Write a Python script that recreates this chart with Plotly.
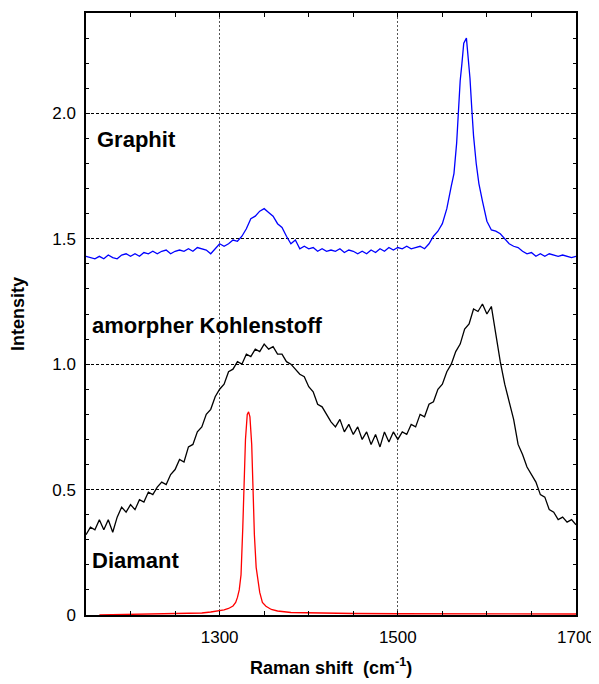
import plotly.graph_objects as go

# ---------------- data ----------------
# amorphous carbon (black)
amorph_x = list(range(1150, 1701, 5))
amorph_y = [0.32, 0.35, 0.34, 0.38, 0.34, 0.38, 0.33, 0.39, 0.43, 0.41,
            0.44, 0.42, 0.46, 0.45, 0.49, 0.48, 0.51, 0.53, 0.52, 0.56,
            0.58, 0.62, 0.61, 0.67, 0.68, 0.73, 0.75, 0.80, 0.82, 0.87,
            0.90, 0.92, 0.97, 0.98, 1.01, 1.00, 1.04, 1.03, 1.06, 1.05,
            1.08, 1.06, 1.07, 1.04, 1.04, 1.01, 1.00, 0.98, 0.96, 0.95,
            0.91, 0.89, 0.84, 0.83, 0.80, 0.77, 0.75, 0.78, 0.73, 0.76,
            0.72, 0.75, 0.70, 0.73, 0.68, 0.72, 0.67, 0.73, 0.69, 0.73,
            0.70, 0.73, 0.72, 0.76, 0.75, 0.80, 0.79, 0.84, 0.85, 0.90,
            0.92, 0.97, 1.00, 1.05, 1.08, 1.14, 1.16, 1.22, 1.21, 1.24,
            1.20, 1.23, 1.12, 1.01, 0.92, 0.85, 0.78, 0.68, 0.64, 0.59,
            0.56, 0.53, 0.48, 0.47, 0.42, 0.41, 0.38, 0.39, 0.37, 0.38,
            0.36]

# graphite (blue)
graphit_x = [1150, 1155, 1160, 1165, 1170, 1175, 1180, 1185, 1190, 1195,
             1200, 1205, 1210, 1215, 1220, 1225, 1230, 1235, 1240, 1245,
             1250, 1255, 1260, 1265, 1270, 1275, 1280, 1285, 1290, 1295,
             1300, 1305, 1310, 1315, 1320, 1325, 1330, 1335, 1340, 1345,
             1350, 1355, 1360, 1365, 1370, 1375, 1380, 1385, 1390, 1395,
             1400, 1405, 1410, 1415, 1420, 1425, 1430, 1435, 1440, 1445,
             1450, 1455, 1460, 1465, 1470, 1475, 1480, 1485, 1490, 1495,
             1500, 1505, 1510, 1515, 1520, 1525, 1530, 1535, 1540, 1545,
             1550, 1555, 1560, 1563, 1566, 1568, 1570, 1572, 1574, 1577,
             1579, 1581, 1583, 1585, 1588, 1591, 1595, 1600, 1605, 1610,
             1615, 1620, 1625, 1630, 1635, 1640, 1645, 1650, 1655, 1660,
             1665, 1670, 1675, 1680, 1685, 1690, 1695, 1700]
graphit_y = [1.43, 1.425, 1.42, 1.43, 1.42, 1.435, 1.425, 1.42, 1.435, 1.44,
             1.43, 1.44, 1.43, 1.445, 1.44, 1.45, 1.44, 1.45, 1.455, 1.44,
             1.45, 1.455, 1.45, 1.46, 1.45, 1.465, 1.46, 1.455, 1.44, 1.46,
             1.48, 1.47, 1.48, 1.495, 1.49, 1.51, 1.54, 1.58, 1.59, 1.61,
             1.62, 1.605, 1.59, 1.56, 1.545, 1.51, 1.48, 1.495, 1.46, 1.47,
             1.46, 1.465, 1.45, 1.46, 1.45, 1.455, 1.45, 1.46, 1.445, 1.455,
             1.45, 1.44, 1.45, 1.44, 1.455, 1.445, 1.46, 1.45, 1.465, 1.455,
             1.465, 1.46, 1.47, 1.46, 1.465, 1.47, 1.46, 1.48, 1.51, 1.53,
             1.56, 1.62, 1.71, 1.76, 1.88, 2.02, 2.13, 2.20, 2.28, 2.30,
             2.22, 2.14, 2.02, 1.91, 1.80, 1.72, 1.65, 1.57, 1.535, 1.53,
             1.52, 1.50, 1.48, 1.47, 1.465, 1.45, 1.44, 1.445, 1.43, 1.44,
             1.43, 1.44, 1.435, 1.43, 1.435, 1.43, 1.425, 1.43]

# diamond (red)
diamant_x = [1165, 1200, 1250, 1280, 1290, 1300, 1305, 1310, 1315, 1318,
             1320, 1322, 1324, 1326, 1327, 1329, 1331, 1332.5, 1334, 1336,
             1337.5, 1339, 1341, 1343, 1345, 1348, 1352, 1358, 1365, 1380,
             1400, 1450, 1500, 1600, 1700]
diamant_y = [0.0, 0.003, 0.005, 0.008, 0.012, 0.016, 0.02, 0.026, 0.036, 0.05,
             0.07, 0.10, 0.16, 0.35, 0.50, 0.70, 0.80, 0.81, 0.79, 0.68,
             0.50, 0.32, 0.19, 0.13, 0.09, 0.05, 0.035, 0.022, 0.016, 0.01,
             0.008, 0.006, 0.005, 0.004, 0.004]

x_tickvals = [1300, 1500, 1700]
y_tickvals = [0, 0.5, 1.0, 1.5, 2.0]
y_ticktext = ["0", "0.5", "1.0", "1.5", "2.0"]

labels = ["Graphit", "amorpher Kohlenstoff", "Diamant"]
label_x = [1160, 1155, 1154]
label_y = [1.895, 1.153, 0.218]

FONT = "Liberation Sans, Arial, sans-serif"

fig = go.Figure()
fig.add_trace(go.Scatter(x=amorph_x, y=amorph_y, mode="lines",
                         line=dict(color="black", width=1.3), showlegend=False))
fig.add_trace(go.Scatter(x=graphit_x, y=graphit_y, mode="lines",
                         line=dict(color="#0000ff", width=1.3), showlegend=False))
fig.add_trace(go.Scatter(x=diamant_x, y=diamant_y, mode="lines",
                         line=dict(color="#ff0000", width=1.3), showlegend=False))

for t, lx, ly in zip(labels, label_x, label_y):
    fig.add_annotation(x=lx, y=ly, xref="x", yref="y", text="<b>%s</b>" % t,
                       showarrow=False, xanchor="left", yanchor="middle",
                       font=dict(family=FONT, size=22, color="black"))

fig.add_annotation(x=0.5, y=-0.086, xref="paper", yref="paper",
                   text="<b>Raman shift  (cm<sup>-1</sup>)</b>", showarrow=False,
                   xanchor="center", yanchor="middle",
                   font=dict(family=FONT, size=18, color="black"))
fig.add_annotation(x=-0.139, y=0.5, xref="paper", yref="paper",
                   text="<b>Intensity</b>", showarrow=False, textangle=-90,
                   xanchor="center", yanchor="middle",
                   font=dict(family=FONT, size=18, color="black"))

# the page body has an 8px margin: size the figure to compensate
fig.update_layout(
    width=591, height=676,
    margin=dict(l=78, r=23, t=3, b=69),
    paper_bgcolor="white", plot_bgcolor="white",
    font=dict(family=FONT, size=17, color="black"),
    xaxis=dict(range=[1150, 1700], tickvals=x_tickvals,
               ticks="inside", ticklen=4, tickcolor="black",
               showline=True, linecolor="black", linewidth=1.5, mirror="ticks",
               showgrid=True, gridcolor="#555555", griddash="2px,2px", gridwidth=1,
               zeroline=False, ticklabelstandoff=6,
               minor=dict(tick0=1150, dtick=50, ticks="inside", ticklen=4,
                          tickcolor="black", showgrid=False)),
    yaxis=dict(range=[0, 2.4], tickvals=y_tickvals, ticktext=y_ticktext,
               ticks="inside", ticklen=4, tickcolor="black",
               showline=True, linecolor="black", linewidth=1.5, mirror="ticks",
               showgrid=True, gridcolor="black", griddash="3px,2px", gridwidth=1,
               zeroline=False, ticklabelstandoff=5,
               minor=dict(tick0=0, dtick=0.1, ticks="inside", ticklen=3,
                          tickcolor="black", showgrid=False)),
)

fig.write_html("out.html")
